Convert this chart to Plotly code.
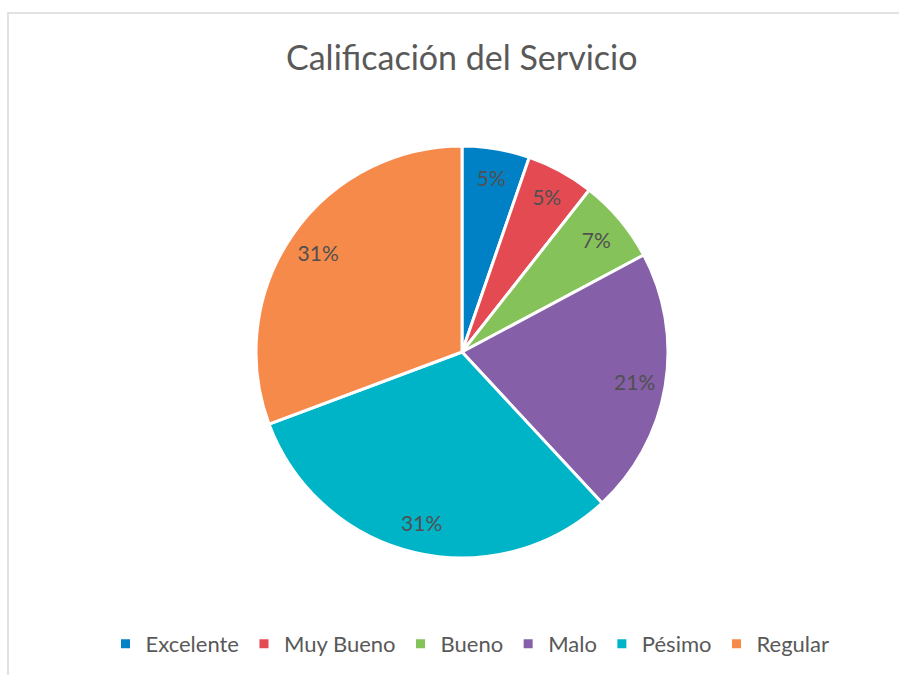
import plotly.graph_objects as go

categories = ["Excelente", "Muy Bueno", "Bueno", "Malo", "Pésimo", "Regular"]
shares = [5.3, 5.3, 6.6, 20.9, 31.2, 30.7]
colors = ["#0081C6", "#E34A52", "#86C25A", "#855FA8", "#00B4C8", "#F68A4A"]

W, H = 899, 675
cx, cy, R = 462, 352, 206
dom_x = [(cx - R) / W, (cx + R) / W]
dom_y = [1 - (cy + R) / H, 1 - (cy - R) / H]

fig = go.Figure()
fig.add_trace(go.Pie(
    labels=categories, values=shares, sort=False, direction="clockwise", rotation=0,
    marker=dict(colors=colors, line=dict(color="white", width=3)),
    textinfo="none", hoverinfo="label+percent",
    domain=dict(x=dom_x, y=dom_y), showlegend=True,
))
# transparent ring overlay to place the percentage labels near the rim
fig.add_trace(go.Pie(
    labels=categories, values=shares, sort=False, direction="clockwise", rotation=0,
    hole=0.7, marker=dict(colors=["rgba(0,0,0,0)"] * len(categories), line=dict(width=0)),
    textinfo="percent", textposition="inside", insidetextorientation="horizontal",
    texttemplate="%{percent:.0%}",
    textfont=dict(family="Lato", size=21, color="#505050"),
    hoverinfo="skip", domain=dict(x=dom_x, y=dom_y), showlegend=False,
))

fig.update_layout(
    width=W, height=H,
    margin=dict(l=0, r=0, t=0, b=0),
    paper_bgcolor="white", plot_bgcolor="white",
    font=dict(family="Lato", color="#595959"),
    annotations=[dict(text="Calificación del Servicio", x=462 / W, y=1 - 57 / H,
                      xref="paper", yref="paper", showarrow=False,
                      xanchor="center", yanchor="middle",
                      font=dict(family="Lato", size=34, color="#595959"))],
    legend=dict(orientation="h", x=470 / W, xanchor="center", y=1 - 644 / H, yanchor="middle",
                font=dict(family="Lato", size=22, color="#595959"), itemwidth=30),
    shapes=[dict(type="rect", xref="paper", yref="paper", x0=8 / W, y0=1 - 13 / H,
                 x1=1.01, y1=-0.01, line=dict(color="#D9D9D9", width=1.5))],
)

fig.write_html("out.html", config={"displayModeBar": False},
               post_script="document.body.style.margin='0';")
